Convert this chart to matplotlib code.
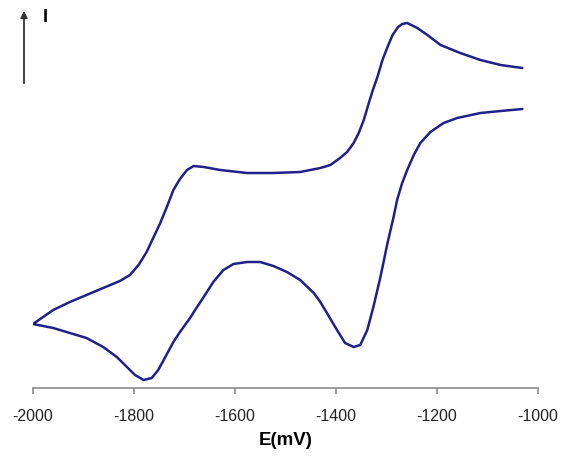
import matplotlib
matplotlib.use("Agg")
import matplotlib.pyplot as plt
import numpy as np

# Potential (mV) and current (arbitrary units)
# Forward branch: from -1030 mV towards the -2000 mV vertex (upper trace)
E_upper = [-1031, -1074, -1114, -1154, -1193, -1219, -1239, -1251, -1259, -1269,
           -1277, -1288, -1298, -1308, -1318, -1327, -1335, -1345, -1355, -1365,
           -1378, -1392, -1411, -1431, -1471, -1524, -1576, -1629, -1662, -1682,
           -1695, -1709, -1722, -1735, -1748, -1762, -1775, -1791, -1808, -1828,
           -1861, -1894, -1927, -1960, -1980, -2000]
I_upper = [32.2, 32.5, 33.0, 33.7, 34.5, 35.5, 36.2, 36.5, 36.7, 36.6,
           36.3, 35.5, 34.3, 33.0, 31.3, 30.0, 28.7, 27.0, 25.7, 24.7,
           23.8, 23.2, 22.5, 22.2, 21.8, 21.7, 21.7, 22.0, 22.3, 22.4,
           22.0, 21.1, 20.0, 18.3, 16.7, 15.2, 13.8, 12.5, 11.5, 10.9,
           10.2, 9.5, 8.8, 8.0, 7.3, 6.6]
# Return branch: from the -2000 mV vertex back to -1030 mV (lower trace)
E_lower = [-2000, -1960, -1927, -1894, -1861, -1834, -1814, -1798, -1781, -1765,
           -1752, -1738, -1722, -1709, -1689, -1679, -1662, -1643, -1623, -1603,
           -1576, -1550, -1524, -1497, -1471, -1444, -1431, -1418, -1398, -1382,
           -1365, -1352, -1338, -1326, -1312, -1298, -1286, -1279, -1269, -1259,
           -1246, -1233, -1213, -1187, -1160, -1114, -1074, -1031]
I_lower = [6.6, 6.2, 5.7, 5.2, 4.3, 3.3, 2.3, 1.5, 1.0, 1.2,
           2.0, 3.3, 4.8, 5.8, 7.2, 8.0, 9.3, 10.8, 12.0, 12.6,
           12.8, 12.8, 12.4, 11.8, 11.0, 9.7, 8.8, 7.7, 6.0, 4.7,
           4.3, 4.5, 6.0, 8.3, 11.3, 14.7, 17.3, 19.0, 20.7, 22.0,
           23.5, 24.7, 25.8, 26.7, 27.2, 27.7, 27.9, 28.1]
x_ticks = [-2000, -1800, -1600, -1400, -1200, -1000]

E = np.array(E_upper + E_lower[1:])
I = np.array(I_upper + I_lower[1:])

fig = plt.figure(figsize=(5.62, 4.59), dpi=100)
ax = fig.add_axes([33/562, 71/459, (538-33)/562, (459-71-8)/459])
ax.plot(E, I, color="#20208a", lw=1.8, solid_joinstyle="round",
        solid_capstyle="round")
ax.set_xlim(-2000, -1000)
ax.set_ylim(0.2, 38.2)

for s in ["top", "right", "left"]:
    ax.spines[s].set_visible(False)
ax.spines["bottom"].set_color("#8c8c8c")
ax.spines["bottom"].set_linewidth(1.2)
ax.set_yticks([])
ax.set_xticks(x_ticks)
ax.set_xticklabels([str(t) for t in x_ticks], fontsize=11.5,
                   family=["Liberation Sans", "DejaVu Sans"], color="#222222")
ax.tick_params(axis="x", direction="out", length=4, width=1.2, color="#8c8c8c", pad=11)
ax.set_xlabel("E(mV)", fontsize=13.5, fontweight="bold",
              family=["Liberation Sans", "DejaVu Sans"], labelpad=6)

# current-direction arrow and label
fig.patches.append(matplotlib.patches.FancyArrowPatch(
    (24/562, 1 - 86/459), (24/562, 1 - 8/459), transform=fig.transFigure,
    arrowstyle="-|>", mutation_scale=10, color="#333333", lw=1.3))
fig.text(45/562, 1 - 18/459, "I", fontsize=13, fontweight="bold",
         family=["Liberation Sans", "DejaVu Sans"], ha="center", va="center")

fig.savefig("out.png", dpi=100)
